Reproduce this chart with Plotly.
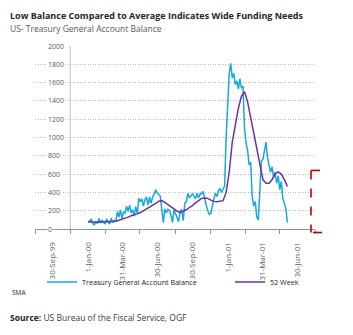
import pandas as pd
import plotly.graph_objects as go

# Treasury General Account balance, sampled every 4 days from 1-Jan-00
tga_start = "2000-01-01"
tga_values = [
    70, 95, 110, 60, 45, 80, 60, 115, 65, 100,
    70, 60, 110, 75, 55, 120, 70, 95, 80, 190,
    130, 210, 115, 190, 170, 250, 190, 260, 175, 210,
    140, 245, 170, 335, 300, 330, 250, 320, 350, 260,
    350, 280, 350, 380, 430, 390, 380, 360, 180, 70,
    220, 175, 215, 200, 150, 70, 210, 160, 130, 80,
    200, 210, 90, 280, 300, 390, 340, 370, 385, 360,
    330, 390, 340, 385, 380, 410, 320, 260, 200, 160,
    170, 270, 330, 390, 355, 420, 440, 400, 430, 470,
    1000, 1450, 1700, 1810, 1650, 1700, 1580, 1620, 1530, 1640,
    1540, 1560, 1100, 940, 860, 700, 730, 360, 250, 300,
    130, 100, 400, 740, 760, 840, 950, 780, 700, 620,
    680, 560, 620, 500, 580, 430, 520, 330, 280, 220,
    70,
]

# 52-week simple moving average, sampled every 8 days from 1-Jan-00
sma_values = [
    80, 75, 73, 75, 77, 78, 80, 80, 80, 85,
    95, 105, 118, 130, 145, 153, 165, 180, 200, 215,
    235, 255, 280, 305, 310, 290, 265, 245, 225, 195,
    178, 190, 210, 235, 255, 285, 315, 335, 340, 335,
    315, 302, 298, 300, 310, 400, 620, 950, 1150, 1320,
    1450, 1500, 1390, 1220, 1050, 850, 670, 540, 500, 500,
    540, 605, 625, 600, 540, 465,
]

tick_dates = ["1999-09-30", "2000-01-01", "2000-03-31", "2000-06-30",
              "2000-09-30", "2001-01-01", "2001-03-31", "2001-06-30"]
tick_labels = ["30-Sep-99", "1-Jan-00", "31-Mar-00", "30-Jun-00",
               "30-Sep-00", "1-Jan-01", "31-Mar-01", "30-Jun-01"]
tick_marks = ["1999-08-15", "1999-11-15", "2000-02-15", "2000-05-15",
              "2000-08-15", "2000-11-15", "2001-02-15", "2001-05-15",
              "2001-08-15"]
y_ticks = list(range(0, 2001, 200))

tga_dates = pd.date_range(tga_start, periods=len(tga_values), freq="4D")
sma_dates = pd.date_range(tga_start, periods=len(sma_values), freq="8D")

FONT = "Open Sans"
GREY = "#595959"

L, R, T, B = 35, 38, 46, 106
W, H = 353, 335
pw, ph = W - L - R, H - T - B


def px(xp):
    return (xp - L) / pw


def py(yp):
    return (H - B - yp) / ph


fig = go.Figure()
fig.add_trace(go.Scatter(
    x=tga_dates, y=tga_values, mode="lines",
    name="Treasury General Account Balance",
    line=dict(color="#16A9E1", width=1.5),
    legend="legend",
))
fig.add_trace(go.Scatter(
    x=sma_dates, y=sma_values, mode="lines",
    name="52 Week",
    line=dict(color="#7030A0", width=1.5),
    legend="legend2",
))

legend_common = dict(
    orientation="h", xanchor="left", yanchor="middle",
    font=dict(family=FONT, size=7.2, color="#262626"),
    itemwidth=30, bgcolor="rgba(0,0,0,0)",
)

fig.update_layout(
    width=W, height=H,
    margin=dict(l=L, r=R, t=T, b=B, pad=0),
    paper_bgcolor="white", plot_bgcolor="white",
    font=dict(family=FONT, color=GREY, size=7),
    showlegend=True,
    legend=dict(x=px(42), y=py(282), **legend_common),
    legend2=dict(x=px(230), y=py(282), **legend_common),
    xaxis=dict(
        type="date", range=["1999-08-15", "2001-08-15"],
        tickmode="array", tickvals=tick_dates, ticktext=tick_labels,
        tickangle=-90, ticks="", showgrid=False,
        tickfont=dict(family=FONT, size=8, color=GREY),
        showline=True, linecolor="#8496B0", linewidth=1,
        minor=dict(tickmode="array", tickvals=tick_marks, ticks="outside",
                   ticklen=4, tickcolor="#8496B0", showgrid=False),
        ticklabelstandoff=9,
        zeroline=False,
    ),
    yaxis=dict(
        range=[0, 2000], tickmode="array", tickvals=y_ticks,
        showticklabels=False,
        showgrid=True, gridcolor="#BDBDBD", griddash="1px,1.5px",
        gridwidth=1,
        showline=False, zeroline=False, ticks="",
    ),
)

# value-axis labels, left-aligned inside the plot area
for v in y_ticks:
    fig.add_annotation(
        text=str(v), xref="paper", yref="y", x=px(46.5), y=v,
        xanchor="left", yanchor="middle", showarrow=False,
        bgcolor="white", borderpad=0,
        font=dict(family=FONT, size=7, color=GREY))

# value axis line
fig.add_shape(type="line", xref="x", yref="paper",
              x0="1999-11-15", x1="1999-11-15", y0=0, y1=1,
              line=dict(color="#BFBFBF", width=1))

# red funding-gap bracket at the right edge
red = dict(color="#C00000", width=1.6, dash="dash")
fig.add_shape(type="line", xref="paper", yref="paper",
              x0=px(311), x1=px(311), y0=640 / 2000, y1=py(232.5), line=red)
fig.add_shape(type="line", xref="paper", yref="paper",
              x0=px(311), x1=px(322), y0=640 / 2000, y1=640 / 2000, line=red)
fig.add_shape(type="line", xref="paper", yref="paper",
              x0=px(313), x1=px(322), y0=py(232.5), y1=py(232.5), line=red)

fig.add_annotation(
    text="<b>Low Balance Compared to Average Indicates Wide Funding Needs</b>",
    xref="paper", yref="paper", x=px(8), y=py(15), xanchor="left",
    yanchor="middle", showarrow=False,
    font=dict(family=FONT, size=9, color="#262626"))
fig.add_annotation(
    text="US- Treasury General Account Balance",
    xref="paper", yref="paper", x=px(8), y=py(29), xanchor="left",
    yanchor="middle", showarrow=False,
    font=dict(family=FONT, size=8.5, color="#595959"))
fig.add_annotation(
    text="SMA", xref="paper", yref="paper", x=px(10), y=py(292),
    xanchor="left", yanchor="middle", showarrow=False,
    font=dict(family=FONT, size=6.5, color="#262626"))
fig.add_annotation(
    text="<b style='color:#262626'>Source:</b> US Bureau of the Fiscal Service, OGF",
    xref="paper", yref="paper", x=px(8), y=py(317), xanchor="left",
    yanchor="middle", showarrow=False,
    font=dict(family=FONT, size=8.5, color="#404040"))

fig.write_html("out.html")
